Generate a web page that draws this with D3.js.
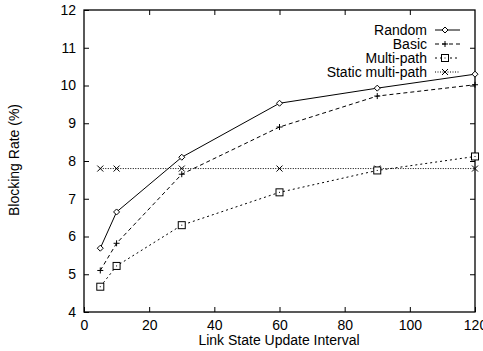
<!DOCTYPE html>
<html><head><meta charset="utf-8">
<script src="https://cdn.jsdelivr.net/npm/d3@7/dist/d3.min.js"></script>
<style>body{margin:0;background:#fff}svg{display:block}text{font-family:"Liberation Sans",Arial,sans-serif;fill:#000}</style>
</head><body>
<script>
const xValues = [5, 10, 30, 60, 90, 120];
const seriesNames = ["Random", "Basic", "Multi-path", "Static multi-path"];
const randomVals = [5.69, 6.65, 8.1, 9.53, 9.93, 10.3];
const basicVals = [5.1, 5.82, 7.65, 8.9, 9.72, 10.02];
const multiVals = [4.67, 5.22, 6.3, 7.17, 7.75, 8.12];
const staticVals = [7.8, 7.8, 7.8, 7.8, 7.8, 7.8];
const xTicks = [0, 20, 40, 60, 80, 100, 120];
const yTicks = [4, 5, 6, 7, 8, 9, 10, 11, 12];

const W = 483, H = 351;
const m = {l: 84, r: 8, t: 10, b: 39};
const svg = d3.select("body").append("svg").attr("width", W).attr("height", H);
const x = d3.scaleLinear().domain([0, 120]).range([m.l, W - m.r]);
const y = d3.scaleLinear().domain([4, 12]).range([H - m.b, m.t]);

const series = [
  {name: seriesNames[0], vals: randomVals, dash: null, marker: "diamond"},
  {name: seriesNames[1], vals: basicVals, dash: "4,3", marker: "plus"},
  {name: seriesNames[2], vals: multiVals, dash: "2,3", marker: "square"},
  {name: seriesNames[3], vals: staticVals, dash: "1,1.5", marker: "cross"}
];

const fs = 14;
const gx = svg.append("g").attr("transform", `translate(0,${H - m.b})`)
  .call(d3.axisBottom(x).tickValues(xTicks).tickSize(-5).tickPadding(8));
const gxt = svg.append("g").attr("transform", `translate(0,${m.t})`)
  .call(d3.axisTop(x).tickValues(xTicks.slice(1, -1)).tickSize(-5).tickFormat(""));
const gy = svg.append("g").attr("transform", `translate(${m.l},0)`)
  .call(d3.axisLeft(y).tickValues(yTicks).tickSize(-5).tickPadding(8));
const gyr = svg.append("g").attr("transform", `translate(${W - m.r},0)`)
  .call(d3.axisRight(y).tickValues(yTicks.slice(1, -1)).tickSize(-5).tickFormat(""));
[gx, gxt, gy, gyr].forEach(g => {
  g.select(".domain").remove();
  g.selectAll("line").attr("stroke", "#000");
  g.selectAll("text").attr("font-size", fs).attr("font-family", "Liberation Sans, Arial, sans-serif").attr("fill", "#000");
});
gx.selectAll("text").attr("dy", "0.71em");
svg.append("rect").attr("x", m.l).attr("y", m.t).attr("width", W - m.r - m.l).attr("height", H - m.b - m.t)
  .attr("fill", "none").attr("stroke", "#000").attr("stroke-width", 1.3);

function marker(g, type, cx, cy) {
  const s = 3;
  if (type === "diamond") {
    g.append("path").attr("d", `M${cx},${cy - s}L${cx + s},${cy}L${cx},${cy + s}L${cx - s},${cy}Z`)
      .attr("fill", "#fff").attr("stroke", "#000").attr("stroke-width", 1);
  } else if (type === "plus") {
    g.append("path").attr("d", `M${cx - s},${cy}H${cx + s}M${cx},${cy - s}V${cy + s}`)
      .attr("stroke", "#000").attr("stroke-width", 1);
  } else if (type === "square") {
    g.append("rect").attr("x", cx - 3.5).attr("y", cy - 3.5).attr("width", 7).attr("height", 7)
      .attr("fill", "#fff").attr("stroke", "#000").attr("stroke-width", 1);
    g.append("rect").attr("x", cx - 0.5).attr("y", cy - 0.5).attr("width", 1).attr("height", 1).attr("fill", "#000");
  } else {
    g.append("path").attr("d", `M${cx - s},${cy - s}L${cx + s},${cy + s}M${cx - s},${cy + s}L${cx + s},${cy - s}`)
      .attr("stroke", "#000").attr("stroke-width", 1);
  }
}

const line = d3.line().x((d, i) => x(xValues[i])).y(d => y(d));
series.slice().reverse().forEach(s => {
  svg.append("path").datum(s.vals).attr("d", line).attr("fill", "none")
    .attr("stroke", "#000").attr("stroke-width", 1).attr("stroke-dasharray", s.dash);
});
series.slice().reverse().forEach(s => {
  const g = svg.append("g");
  s.vals.forEach((v, i) => marker(g, s.marker, x(xValues[i]), y(v)));
});

const lg = svg.append("g");
series.forEach((s, i) => {
  const yy = 30 + i * 14;
  lg.append("text").attr("x", 427).attr("y", yy).attr("dy", "0.35em").attr("text-anchor", "end")
    .attr("font-size", fs).text(s.name);
  lg.append("line").attr("x1", 435).attr("x2", 460).attr("y1", yy).attr("y2", yy)
    .attr("stroke", "#000").attr("stroke-width", 1).attr("stroke-dasharray", s.dash);
  marker(lg, s.marker, 445, yy);
});

svg.append("text").attr("x", 279).attr("y", 345).attr("text-anchor", "middle").attr("font-size", fs)
  .text("Link State Update Interval");
svg.append("text").attr("transform", `translate(19,160) rotate(-90)`).attr("text-anchor", "middle")
  .attr("font-size", fs).text("Blocking Rate (%)");
</script>
</body></html>
